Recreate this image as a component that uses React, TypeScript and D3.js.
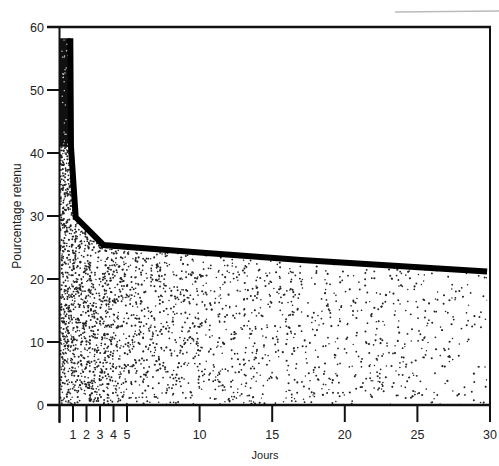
import React, { useMemo } from "react";
import * as d3 from "d3";

// Data
const days = [0.8, 0.85, 1.2, 3.25, 10, 17, 29.8];
const retained = [58.2, 41, 29.8, 25.4, 24.2, 23.0, 21.2];
const xTicks = [0, 1, 2, 3, 4, 5, 10, 15, 20, 25, 30];
const xTickLabels = ["", "1", "2", "3", "4", "5", "10", "15", "20", "25", "30"];
const yTicks = [0, 10, 20, 30, 40, 50, 60];
const xTitle = "Jours";
const yTitle = "Pourcentage retenu";

const W = 499;
const H = 466;

export default function App() {
  const x = d3.scaleLinear().domain([0, 5, 30]).range([59.5, 127, 490]);
  const y = d3.scaleLinear().domain([0, 60]).range([405, 27]);

  const pts: [number, number][] = days.map((d, i) => [d, retained[i]]);

  const line = d3
    .line<[number, number]>()
    .x((d) => x(d[0]))
    .y((d) => y(d[1]));

  const area = d3
    .area<[number, number]>()
    .x((d) => x(d[0]))
    .y0(y(0))
    .y1((d) => y(d[1]));

  const areaPts: [number, number][] = [[0, retained[0]], ...pts];
  const areaPath = area(areaPts) || "";

  // dark region between the axis and the steep first segment
  const darkPts: [number, number][] = [
    [0, retained[0]],
    [days[0], retained[0]],
    [days[1], retained[1]],
    [0, retained[1]],
  ];
  const darkPath =
    "M" + darkPts.map((p) => `${x(p[0])},${y(p[1])}`).join("L") + "Z";

  // stipple texture (decoration only)
  const dots = useMemo(() => {
    const rnd = d3.randomLcg(0.1234);
    const out: { cx: number; cy: number; r: number }[] = [];
    const x0 = 60, x1 = 490, y0 = 140, y1 = 405;
    const n = 24000;
    const sampleDens = (n / ((x1 - x0) * (y1 - y0))) * 100;
    for (let i = 0; i < n; i++) {
      const cx = x0 + rnd() * (x1 - x0);
      const cy = y0 + rnd() * (y1 - y0);
      const dens =
        1.35 +
        8.5 * Math.exp(-(cx - 60) / 100) +
        8 * Math.exp(-(cx - 60) / 22);
      if (rnd() < dens / sampleDens) {
        out.push({ cx, cy, r: 0.72 + rnd() * 0.38 });
      }
    }
    return out;
  }, []);

  const whiteDots = useMemo(() => {
    const rnd = d3.randomLcg(0.777);
    const out: { cx: number; cy: number }[] = [];
    for (let i = 0; i < 40; i++) {
      out.push({ cx: 62 + rnd() * 8, cy: 40 + rnd() * 110 });
    }
    return out;
  }, []);

  const font = "'Liberation Sans', Arial, sans-serif";

  return (
    <svg
      width={W}
      height={H}
      style={{ position: "absolute", left: 0, top: 0, background: "#fff" }}
    >
      <defs>
        <clipPath id="areaClip">
          <path d={areaPath} />
        </clipPath>
      </defs>
      <rect x={0} y={0} width={W} height={H} fill="#fff" />

      {/* faint scan line at top right */}
      <line x1={395} x2={499} y1={12} y2={11} stroke="#bbb" strokeWidth={1.5} />

      {/* stippled area */}
      <g clipPath="url(#areaClip)">
        {dots.map((d, i) => (
          <circle key={i} cx={d.cx} cy={d.cy} r={d.r} fill="#222" />
        ))}
      </g>
      <path d={darkPath} fill="#111" />
      {whiteDots.map((d, i) => (
        <circle key={"w" + i} cx={d.cx} cy={d.cy} r={0.7} fill="#ddd" />
      ))}

      {/* frame */}
      <line x1={47} x2={491} y1={y(60)} y2={y(60)} stroke="#111" strokeWidth={2.6} />
      <line x1={490} x2={490} y1={y(60)} y2={y(0)} stroke="#111" strokeWidth={2} />
      <line x1={47} x2={491} y1={y(0)} y2={y(0)} stroke="#111" strokeWidth={2.6} />
      <line x1={x(0)} x2={x(0)} y1={y(60)} y2={y(0) + 18} stroke="#111" strokeWidth={2} />

      {/* y ticks */}
      {yTicks.map((t) => (
        <g key={"y" + t}>
          <line x1={47} x2={x(0)} y1={y(t)} y2={y(t)} stroke="#111" strokeWidth={2} />
          <text
            x={44}
            y={y(t)}
            dy="0.36em"
            textAnchor="end"
            fontFamily={font}
            fontSize={12.5}
            fill="#222"
          >
            {t}
          </text>
        </g>
      ))}

      {/* x ticks */}
      {xTicks.map((t, i) => (
        <g key={"x" + t}>
          <line x1={x(t)} x2={x(t)} y1={y(0)} y2={y(0) + 17} stroke="#111" strokeWidth={2} />
          <text
            x={x(t)}
            y={y(0) + 34}
            textAnchor="middle"
            fontFamily={font}
            fontSize={12.5}
            fill="#222"
          >
            {xTickLabels[i]}
          </text>
        </g>
      ))}

      {/* curve */}
      <path
        d={line(pts) || ""}
        fill="none"
        stroke="#000"
        strokeWidth={6}
        strokeLinejoin="miter"
        strokeLinecap="butt"
      />

      {/* titles */}
      <text
        x={265}
        y={459}
        textAnchor="middle"
        fontFamily={font}
        fontSize={11}
        fill="#222"
      >
        {xTitle}
      </text>
      <text
        transform={`translate(21, ${(y(0) + y(60)) / 2}) rotate(-90)`}
        textAnchor="middle"
        fontFamily={font}
        fontSize={12}
        fill="#222"
      >
        {yTitle}
      </text>
    </svg>
  );
}
